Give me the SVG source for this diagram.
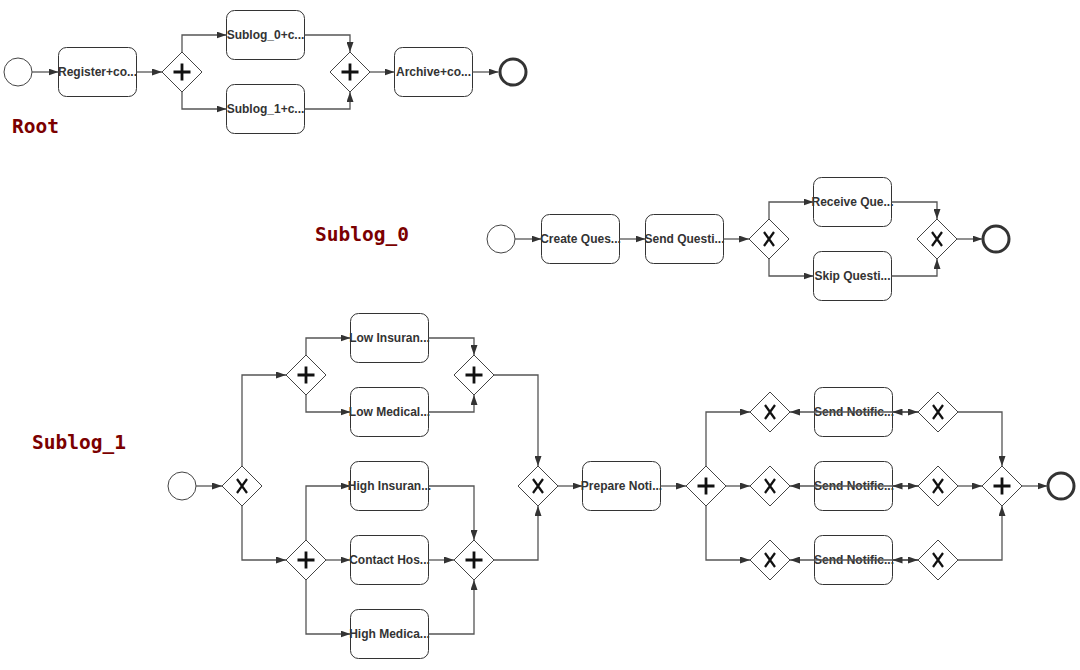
<svg xmlns="http://www.w3.org/2000/svg" width="1080" height="670" viewBox="0 0 1080 670">
  <style>
    .task rect { fill: #fff; stroke: #333; stroke-width: 1; }
    .lbl { font-family: "Liberation Sans", Arial, sans-serif; font-size: 12px; font-weight: bold; fill: #333; text-anchor: middle; }
    .gw { fill: #fff; stroke: #444; stroke-width: 1; }
    .plus { fill: none; stroke: #111; stroke-width: 2.8; }
    .xor { fill: none; stroke: #111; stroke-width: 2.2; }
    .start { fill: #fff; stroke: #444; stroke-width: 1; }
    .end { fill: #fff; stroke: #333; stroke-width: 3; }
    .title { font-family: "DejaVu Sans Mono", "Liberation Mono", monospace; font-weight: bold; font-size: 19.5px; fill: #7b0000; }
    .flows path { fill: none; stroke: #555; stroke-width: 1.3; marker-end: url(#arrow); }
    .flows path.both { marker-start: url(#arrow); }
  </style>
  <defs>
    <marker id="arrow" viewBox="0 0 10 7" refX="10" refY="3.5" markerWidth="10" markerHeight="7" markerUnits="userSpaceOnUse" orient="auto-start-reverse">
      <path d="M0,0 L10,3.5 L0,7 z" fill="#333"/>
    </marker>
    <path id="diamond" class="gw" d="M0,-20 L20,0 L0,20 L-20,0 Z"/>
    <path id="plusMark" class="plus" d="M-8.5,0 H8.5 M0,-8.5 V8.5"/>
    <path id="xMark" class="xor" d="M-5,-7 L5,7 M5,-7 L-5,7"/>
  </defs>

  <rect width="1080" height="670" fill="#fff"/>

  <!-- section titles -->
  <text class="title" x="12" y="133">Root</text>
  <text class="title" x="315" y="241">Sublog_0</text>
  <text class="title" x="32" y="449">Sublog_1</text>

  <g id="nodes">
    <!-- Root process -->
    <g id="r_start"><circle class="start" cx="18" cy="72" r="14"/></g>
    <g id="r_register" class="task"><rect x="58.5" y="47.5" width="78" height="49" rx="8"/><text class="lbl" x="97.5" y="76">Register+co...</text></g>
    <g id="r_and_split" transform="translate(182,72)"><use href="#diamond"/><use href="#plusMark"/></g>
    <g id="r_sublog0" class="task"><rect x="226.5" y="10.5" width="78" height="49" rx="8"/><text class="lbl" x="265.5" y="39">Sublog_0+c...</text></g>
    <g id="r_sublog1" class="task"><rect x="226.5" y="84.5" width="78" height="49" rx="8"/><text class="lbl" x="265.5" y="113">Sublog_1+c...</text></g>
    <g id="r_and_join" transform="translate(350,72)"><use href="#diamond"/><use href="#plusMark"/></g>
    <g id="r_archive" class="task"><rect x="394.5" y="47.5" width="78" height="49" rx="8"/><text class="lbl" x="433.5" y="76">Archive+co...</text></g>
    <g id="r_end"><circle class="end" cx="513" cy="72" r="13"/></g>

    <!-- Sublog_0 process -->
    <g id="s0_start"><circle class="start" cx="501" cy="239" r="14"/></g>
    <g id="s0_create" class="task"><rect x="541.5" y="214.5" width="78" height="49" rx="8"/><text class="lbl" x="580.5" y="243">Create Ques...</text></g>
    <g id="s0_send" class="task"><rect x="645.5" y="214.5" width="78" height="49" rx="8"/><text class="lbl" x="684.5" y="243">Send Questi...</text></g>
    <g id="s0_xor_split" transform="translate(769,239)"><use href="#diamond"/><use href="#xMark"/></g>
    <g id="s0_receive" class="task"><rect x="813.5" y="177.5" width="78" height="49" rx="8"/><text class="lbl" x="852.5" y="206">Receive Que...</text></g>
    <g id="s0_skip" class="task"><rect x="813.5" y="251.5" width="78" height="49" rx="8"/><text class="lbl" x="852.5" y="280">Skip Questi...</text></g>
    <g id="s0_xor_join" transform="translate(937,239)"><use href="#diamond"/><use href="#xMark"/></g>
    <g id="s0_end"><circle class="end" cx="996" cy="239" r="13"/></g>

    <!-- Sublog_1 process -->
    <g id="s1_start"><circle class="start" cx="182" cy="486" r="14"/></g>
    <g id="s1_xor_split" transform="translate(242,486)"><use href="#diamond"/><use href="#xMark"/></g>
    <g id="s1_and_low_split" transform="translate(306,375)"><use href="#diamond"/><use href="#plusMark"/></g>
    <g id="s1_low_ins" class="task"><rect x="350.5" y="313.5" width="78" height="49" rx="8"/><text class="lbl" x="389.5" y="342">Low Insuran...</text></g>
    <g id="s1_low_med" class="task"><rect x="350.5" y="387.5" width="78" height="49" rx="8"/><text class="lbl" x="389.5" y="416">Low Medical...</text></g>
    <g id="s1_and_low_join" transform="translate(474,375)"><use href="#diamond"/><use href="#plusMark"/></g>
    <g id="s1_and_high_split" transform="translate(306,560)"><use href="#diamond"/><use href="#plusMark"/></g>
    <g id="s1_high_ins" class="task"><rect x="350.5" y="461.5" width="78" height="49" rx="8"/><text class="lbl" x="389.5" y="490">High Insuran...</text></g>
    <g id="s1_contact" class="task"><rect x="350.5" y="535.5" width="78" height="49" rx="8"/><text class="lbl" x="389.5" y="564">Contact Hos...</text></g>
    <g id="s1_high_med" class="task"><rect x="350.5" y="609.5" width="78" height="49" rx="8"/><text class="lbl" x="389.5" y="638">High Medica...</text></g>
    <g id="s1_and_high_join" transform="translate(474,560)"><use href="#diamond"/><use href="#plusMark"/></g>
    <g id="s1_xor_join" transform="translate(538,486)"><use href="#diamond"/><use href="#xMark"/></g>
    <g id="s1_prepare" class="task"><rect x="582.5" y="461.5" width="78" height="49" rx="8"/><text class="lbl" x="621.5" y="490">Prepare Noti...</text></g>
    <g id="s1_and_notify_split" transform="translate(706,486)"><use href="#diamond"/><use href="#plusMark"/></g>
    <g id="s1_xor_a_in" transform="translate(770,412)"><use href="#diamond"/><use href="#xMark"/></g>
    <g id="s1_xor_b_in" transform="translate(770,486)"><use href="#diamond"/><use href="#xMark"/></g>
    <g id="s1_xor_c_in" transform="translate(770,560)"><use href="#diamond"/><use href="#xMark"/></g>
    <g id="s1_notify_a" class="task"><rect x="814.5" y="387.5" width="78" height="49" rx="8"/><text class="lbl" x="854" y="416">Send Notific...</text></g>
    <g id="s1_notify_b" class="task"><rect x="814.5" y="461.5" width="78" height="49" rx="8"/><text class="lbl" x="854" y="490">Send Notific...</text></g>
    <g id="s1_notify_c" class="task"><rect x="814.5" y="535.5" width="78" height="49" rx="8"/><text class="lbl" x="854" y="564">Send Notific...</text></g>
    <g id="s1_xor_a_out" transform="translate(938,412)"><use href="#diamond"/><use href="#xMark"/></g>
    <g id="s1_xor_b_out" transform="translate(938,486)"><use href="#diamond"/><use href="#xMark"/></g>
    <g id="s1_xor_c_out" transform="translate(938,560)"><use href="#diamond"/><use href="#xMark"/></g>
    <g id="s1_and_notify_join" transform="translate(1002,486)"><use href="#diamond"/><use href="#plusMark"/></g>
    <g id="s1_end"><circle class="end" cx="1061" cy="486" r="13"/></g>
  </g>

  <g id="connectors" class="flows">
    <!-- Root -->
    <path d="M32,72 H58.5"/>
    <path d="M136.5,72 H162"/>
    <path d="M182,52 V35 H226.5"/>
    <path d="M182,92 V109 H226.5"/>
    <path d="M304.5,35 H350 V52"/>
    <path d="M304.5,109 H350 V92"/>
    <path d="M370,72 H394.5"/>
    <path d="M472.5,72 H498.5"/>

    <!-- Sublog_0 -->
    <path d="M515,239 H541.5"/>
    <path d="M619.5,239 H645.5"/>
    <path d="M723.5,239 H749"/>
    <path d="M769,219 V202 H813.5"/>
    <path d="M769,259 V276 H813.5"/>
    <path d="M891.5,202 H937 V219"/>
    <path d="M891.5,276 H937 V259"/>
    <path d="M957,239 H982.5"/>

    <!-- Sublog_1 -->
    <path d="M196,486 H222"/>
    <path d="M242,466 V375 H286"/>
    <path d="M242,506 V560 H286"/>
    <path d="M306,355 V338 H350.5"/>
    <path d="M306,395 V412 H350.5"/>
    <path d="M428.5,338 H474 V355"/>
    <path d="M428.5,412 H474 V395"/>
    <path d="M494,375 H538 V466"/>
    <path d="M306,540 V486 H350.5"/>
    <path d="M326,560 H350.5"/>
    <path d="M306,580 V634 H350.5"/>
    <path d="M428.5,486 H474 V540"/>
    <path d="M428.5,560 H454"/>
    <path d="M428.5,634 H474 V580"/>
    <path d="M494,560 H538 V506"/>
    <path d="M558,486 H582.5"/>
    <path d="M660.5,486 H686"/>
    <path d="M706,466 V412 H750"/>
    <path d="M726,486 H750"/>
    <path d="M706,506 V560 H750"/>

    <!-- notification loops: out-gateway back to in-gateway, task to out-gateway -->
    <path d="M918,412 H790"/>
    <path class="both" d="M892.5,412 H918"/>
    <path d="M918,486 H790"/>
    <path class="both" d="M892.5,486 H918"/>
    <path d="M918,560 H790"/>
    <path class="both" d="M892.5,560 H918"/>

    <path d="M958,412 H1002 V466"/>
    <path d="M958,486 H982"/>
    <path d="M958,560 H1002 V506"/>
    <path d="M1022,486 H1047.5"/>
  </g>
</svg>
